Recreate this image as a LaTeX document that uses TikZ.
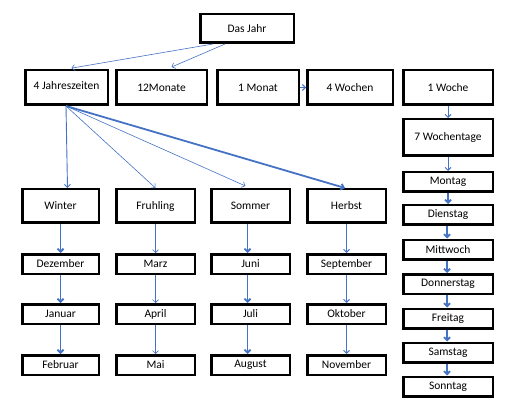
\documentclass[tikz,border=0pt]{standalone}
\usepackage{fontspec}
\setmainfont{Carlito}
\usetikzlibrary{arrows.meta}
\definecolor{arrowblue}{RGB}{68,114,196}
\tikzset{
  box/.style={draw=black, line width=2.5pt, fill=white, inner sep=1pt, font=\fontsize{11.5}{13}\selectfont},
  big/.style={box, minimum height=34.5pt},
  small/.style={box, minimum height=19.5pt, minimum width=76.5pt},
  conn/.style={draw=arrowblue, line width=0.9pt, -{Straight Barb[length=3pt,width=6pt]}},
  thick conn/.style={conn, line width=1.8pt},
  thin conn/.style={conn, line width=0.6pt}
}
\begin{document}
\begin{tikzpicture}[x=1pt,y=-1pt]
\useasboundingbox (0,0) rectangle (510,411);
% top
\node[box, minimum width=93.5pt, minimum height=28.5pt] (dj) at (247,28.5) {Das Jahr};
% row 2
\node[big, minimum width=82.5pt] (jz) at (66.5,87.5) {\raisebox{4pt}{4 Jahreszeiten}};
\node[big, minimum width=90.5pt] (m12) at (161.5,87.5) {12Monate};
\node[big, minimum width=81.5pt] (m1) at (258,87.5) {1 Monat};
\node[big, minimum width=85.5pt] (w4) at (350,87.5) {4 Wochen};
\node[big, minimum width=89.5pt] (w1) at (448,87.5) {1 Woche};
\node[box, minimum width=89.5pt, minimum height=36.5pt] (wt) at (448,137.5) {7 Wochentage};
% days
\node[small, minimum width=89.5pt] (mo) at (448,182) {Montag};
\node[small, minimum width=89.5pt] (di) at (448,215) {Dienstag};
\node[small, minimum width=89.5pt] (mi) at (448,249.5) {Mittwoch};
\node[small, minimum width=89.5pt] (do) at (448,284) {Donnerstag};
\node[small, minimum width=89.5pt] (fr) at (448,318.5) {Freitag};
\node[small, minimum width=89.5pt] (sa) at (448,352.5) {Samstag};
\node[small, minimum width=89.5pt] (so) at (448,386.5) {Sonntag};
% seasons
\node[box, minimum width=76.5pt, minimum height=33.5pt] (wi) at (60.5,206) {Winter};
\node[box, minimum width=78.5pt, minimum height=33.5pt] (fh) at (155.5,206) {Fruhling};
\node[box, minimum width=78.5pt, minimum height=33.5pt] (sm) at (250.5,206) {Sommer};
\node[box, minimum width=78.5pt, minimum height=33.5pt] (hb) at (346.5,206) {Herbst};
% months
\node[small] (dez) at (60.5,264) {Dezember};
\node[small] (jan) at (60.5,314) {Januar};
\node[small] (feb) at (60.5,365) {Februar};
\node[small, minimum width=78.5pt] (mar) at (155.5,264) {Marz};
\node[small, minimum width=78.5pt] (apr) at (155.5,314) {April};
\node[small, minimum width=78.5pt] (mai) at (155.5,365) {Mai};
\node[small, minimum width=78.5pt] (jun) at (250.5,264) {Juni};
\node[small, minimum width=78.5pt] (jul) at (250.5,314) {Juli};
\node[small, minimum width=78.5pt] (aug) at (250.5,365) {August};
\node[small, minimum width=78.5pt] (sep) at (346.5,264) {September};
\node[small, minimum width=78.5pt] (okt) at (346.5,314) {Oktober};
\node[small, minimum width=78.5pt] (nov) at (346.5,365) {November};
% connectors top
\draw[thin conn, shorten >=5pt] ([xshift=-34pt]dj.south) -- (jz.north);
\draw[thin conn, shorten >=5pt] ([xshift=-22pt]dj.south) -- ([xshift=5.5pt]m12.north);
\draw[conn] (m1.east) -- (w4.west);
\draw[conn] (w1.south) -- (wt.north);
% seasons from 4 Jahreszeiten
\draw[conn] ([xshift=-0.5pt]jz.south) -- ([xshift=7pt]wi.north);
\draw[thin conn] ([xshift=-0.5pt]jz.south) -- (fh.north);
\draw[thin conn, shorten >=5pt] ([xshift=-0.5pt]jz.south) -- ([xshift=-0.5pt]sm.north);
\draw[thick conn] ([xshift=-0.5pt]jz.south) -- ([xshift=-1.5pt]hb.north);
% months
\draw[thick conn] (wi.south) -- (dez.north);
\draw[thick conn] (dez.south) -- (jan.north);
\draw[thick conn] (jan.south) -- (feb.north);
\draw[thin conn] (fh.south) -- (mar.north);
\draw[thin conn] (mar.south) -- (apr.north);
\draw[thin conn] (apr.south) -- (mai.north);
\draw[thick conn] ([xshift=-3pt]sm.south) -- ([xshift=-3pt]jun.north);
\draw[thick conn] ([xshift=-3pt]jun.south) -- ([xshift=-3pt]jul.north);
\draw[thick conn] ([xshift=-3pt]jul.south) -- ([xshift=-3pt]aug.north);
\draw[conn] (hb.south) -- (sep.north);
\draw[conn] (sep.south) -- (okt.north);
\draw[conn] (okt.south) -- (nov.north);
% days
\draw[conn] (wt.south) -- (mo.north);
\draw[thick conn] (mo.south) -- (di.north);
\draw[thick conn] ([xshift=-1pt]di.south) -- ([xshift=-1pt]mi.north);
\draw[thick conn] ([xshift=-1pt]mi.south) -- ([xshift=-1pt]do.north);
\draw[thick conn] ([xshift=-1pt]do.south) -- ([xshift=-1pt]fr.north);
\draw[thick conn] ([xshift=-1pt]fr.south) -- ([xshift=-1pt]sa.north);
\draw[thick conn] ([xshift=-1pt]sa.south) -- ([xshift=-1pt]so.north);
\end{tikzpicture}
\end{document}
